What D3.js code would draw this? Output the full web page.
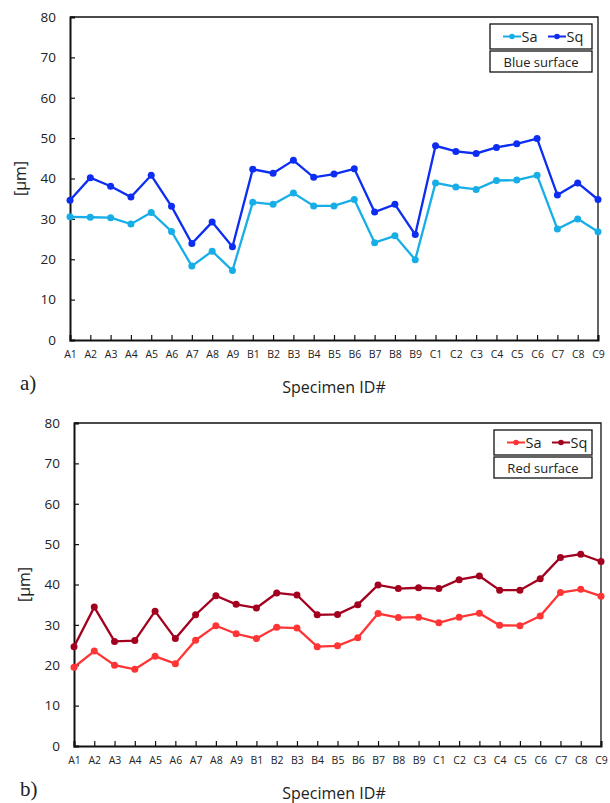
<!DOCTYPE html>
<html>
<head>
<meta charset="utf-8">
<script src="https://cdn.jsdelivr.net/npm/d3@7"></script>
<style>
  body { margin: 0; background: #fff; }
  text { font-family: "Open Sans", "Noto Sans", sans-serif; fill: #222; }
</style>
</head>
<body>
<svg width="610" height="803"></svg>
<script>
// categorii
const specimens = ["A1","A2","A3","A4","A5","A6","A7","A8","A9",
                   "B1","B2","B3","B4","B5","B6","B7","B8","B9",
                   "C1","C2","C3","C4","C5","C6","C7","C8","C9"];
const yTicks = [0, 10, 20, 30, 40, 50, 60, 70, 80];

// a) blue surface
const blueSa = [30.5, 30.4, 30.3, 28.7, 31.6, 26.9, 18.3, 22.0, 17.2,
                34.1, 33.6, 36.4, 33.2, 33.2, 34.8, 24.1, 25.8, 19.9,
                38.9, 37.9, 37.3, 39.5, 39.6, 40.8, 27.5, 30.0, 26.8];
const blueSq = [34.6, 40.2, 38.1, 35.4, 40.8, 33.1, 23.9, 29.2, 23.1,
                42.3, 41.3, 44.5, 40.3, 41.1, 42.4, 31.7, 33.6, 26.1,
                48.1, 46.7, 46.2, 47.7, 48.6, 49.9, 35.9, 38.9, 34.8];

// b) red surface
const redSa = [19.5, 23.5, 20.0, 19.0, 22.2, 20.4, 26.2, 29.8, 27.8,
               26.6, 29.4, 29.2, 24.6, 24.8, 26.8, 32.8, 31.8, 31.9,
               30.5, 31.9, 32.9, 29.9, 29.8, 32.2, 38.0, 38.8, 37.1];
const redSq = [24.6, 34.4, 25.9, 26.1, 33.4, 26.6, 32.5, 37.2, 35.1,
               34.2, 37.9, 37.4, 32.5, 32.6, 35.0, 39.9, 39.0, 39.2,
               39.0, 41.2, 42.1, 38.6, 38.6, 41.4, 46.7, 47.5, 45.7];

let svg = d3.select("svg");

// deseneaza un panou (a sau b)
function drawPanel(p) {
    let x = d3.scalePoint().domain(specimens).range([p.left, p.right]);
    let y = d3.scaleLinear().domain([0, 80]).range([p.bottom, p.top]);
    let g = svg.append("g");

    // rama de sus si din dreapta
    g.append("path")
        .attr("d", `M${p.left},${p.top}H${p.right}V${p.bottom}`)
        .attr("fill", "none").attr("stroke", "#111").attr("stroke-width", 1.3);

    // axa y, tick-uri spre interior
    let ay = g.append("g").attr("transform", `translate(${p.left},0)`)
        .call(d3.axisLeft(y).tickValues(yTicks).tickSize(-5).tickPadding(14));
    ay.select(".domain").attr("stroke", "#111").attr("stroke-width", 2);
    ay.selectAll(".tick line").attr("stroke", "#111").attr("stroke-width", 1.2);
    ay.selectAll("text").style("font-size", "13.5px").attr("fill", "#222");

    // axa x
    let ax = g.append("g").attr("transform", `translate(0,${p.bottom})`)
        .call(d3.axisBottom(x).tickSize(-5).tickPadding(11));
    ax.select(".domain").attr("stroke", "#111").attr("stroke-width", 2);
    ax.selectAll(".tick line").attr("stroke", "#111").attr("stroke-width", 1.2);
    ax.selectAll("text").style("font-size", "10.5px").attr("fill", "#222");

    let line = d3.line().x((d, i) => x(specimens[i])).y(d => y(d));

    p.series.forEach(s => {
        g.append("path").datum(s.values)
            .attr("d", line)
            .attr("fill", "none").attr("stroke", s.color).attr("stroke-width", 2.3);
        g.selectAll(null).data(s.values).enter().append("circle")
            .attr("cx", (d, i) => x(specimens[i]))
            .attr("cy", d => y(d))
            .attr("r", 3.5)
            .attr("fill", s.color);
    });

    // legenda
    let lg = p.legend;
    g.append("rect").attr("x", lg.x).attr("y", lg.y).attr("width", lg.w).attr("height", 25)
        .attr("fill", "#fff").attr("stroke", "#111").attr("stroke-width", 1.3);
    g.append("rect").attr("x", lg.x).attr("y", lg.y + 27).attr("width", lg.w).attr("height", 21)
        .attr("fill", "#fff").attr("stroke", "#111").attr("stroke-width", 1.3);
    p.series.forEach((s, i) => {
        let lx = lg.x + 13 + i * 45;
        let ly = lg.y + 12.5;
        g.append("line").attr("x1", lx).attr("x2", lx + 18).attr("y1", ly).attr("y2", ly)
            .attr("stroke", s.color).attr("stroke-width", 2);
        g.append("circle").attr("cx", lx + 9).attr("cy", ly).attr("r", 2.8).attr("fill", s.color);
        g.append("text").attr("x", lx + 18.5).attr("y", ly + 5.5)
            .style("font-size", "14.5px").text(s.name);
    });
    g.append("text").attr("x", lg.x + lg.w / 2).attr("y", lg.y + 43)
        .attr("text-anchor", "middle").style("font-size", "13px").text(p.title);

    // etichete
    g.append("text")
        .attr("transform", `translate(${p.left - 44},${(p.top + p.bottom) / 2}) rotate(-90)`)
        .attr("text-anchor", "middle").style("font-size", "16px").text("[µm]");
    g.append("text").attr("x", 334).attr("y", p.bottom + 53)
        .attr("text-anchor", "middle").style("font-size", "16px").text("Specimen ID#");
    g.append("text").attr("x", 20).attr("y", p.bottom + 50)
        .style("font-family", "'Liberation Serif', 'DejaVu Serif', serif")
        .style("font-size", "21px").text(p.tag);
}

drawPanel({
    left: 70, right: 598, top: 17, bottom: 340, tag: "a)", title: "Blue surface",
    legend: { x: 490, y: 24, w: 102 },
    series: [
        { name: "Sa", values: blueSa, color: "#17aee8" },
        { name: "Sq", values: blueSq, color: "#0d2ef2" }
    ]
});

drawPanel({
    left: 74, right: 601, top: 423, bottom: 746, tag: "b)", title: "Red surface",
    legend: { x: 494, y: 430, w: 98 },
    series: [
        { name: "Sa", values: redSa, color: "#ff3535" },
        { name: "Sq", values: redSq, color: "#a3001f" }
    ]
});
</script>
</body>
</html>
